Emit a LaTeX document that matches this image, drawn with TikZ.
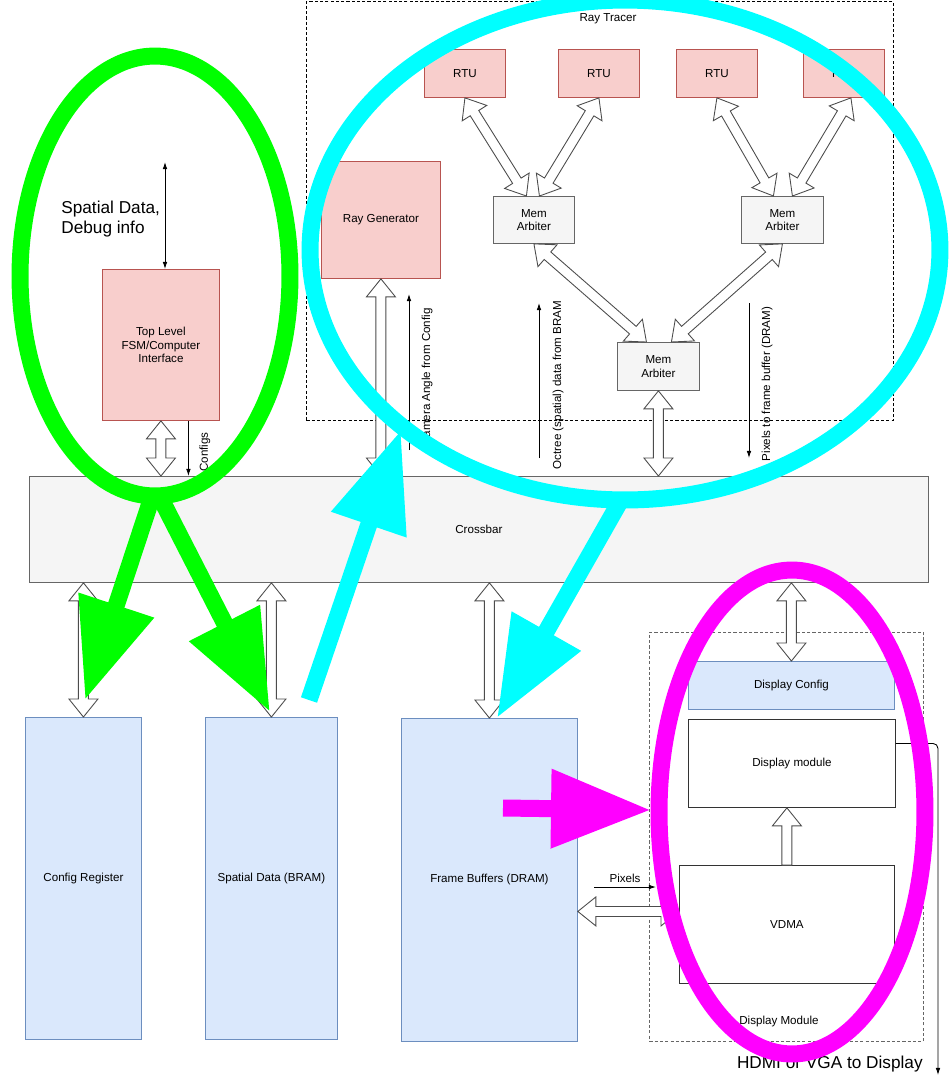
\documentclass[tikz,border=0pt]{standalone}
\usepackage{fontspec}
\setmainfont{Liberation Sans}
\usepackage{xcolor}
\definecolor{pinkfill}{HTML}{F8CECC}
\definecolor{pinkline}{HTML}{B85450}
\definecolor{bluefill}{HTML}{DAE8FC}
\definecolor{blueline}{HTML}{6C8EBF}
\definecolor{grayfill}{HTML}{F5F5F5}
\definecolor{grayline}{HTML}{666666}
\definecolor{hlgreen}{HTML}{00FF00}
\definecolor{hlcyan}{HTML}{00FFFF}
\definecolor{hlmag}{HTML}{FF00FF}
\usepackage{tikz}
\usetikzlibrary{arrows.meta,calc}

% hollow arrow, heads at both ends
\newcommand{\fatboth}[2]{%
  \path ($(#1)!0.36cm!(#2)$) coordinate (fa1) ($(#2)!0.36cm!(#1)$) coordinate (fa2);
  \draw[fat] (#1) -- ($(fa1)!0.29cm!90:(#2)$) -- ($(fa1)!0.1cm!90:(#2)$)
    -- ($(fa2)!0.1cm!-90:(#1)$) -- ($(fa2)!0.29cm!-90:(#1)$) -- (#2)
    -- ($(fa2)!0.29cm!90:(#1)$) -- ($(fa2)!0.1cm!90:(#1)$)
    -- ($(fa1)!0.1cm!-90:(#2)$) -- ($(fa1)!0.29cm!-90:(#2)$) -- cycle;}
% hollow arrow, head at the second end
\newcommand{\fatone}[2]{%
  \path ($(#2)!0.36cm!(#1)$) coordinate (fa2);
  \draw[fat] ($(#1)!0.1cm!90:(#2)$) -- ($(fa2)!0.1cm!-90:(#1)$)
    -- ($(fa2)!0.29cm!-90:(#1)$) -- (#2) -- ($(fa2)!0.29cm!90:(#1)$)
    -- ($(fa2)!0.1cm!90:(#1)$) -- ($(#1)!0.1cm!-90:(#2)$) -- cycle;}

\begin{document}
\begin{tikzpicture}[x=0.02cm, y=-0.02cm,
  box/.style={draw, inner sep=0pt, anchor=north west, line width=0.5pt, align=center,
    font=\fontsize{6.6}{7.6}\selectfont},
  pinkbox/.style={box, fill=pinkfill, draw=pinkline},
  bluebox/.style={box, fill=bluefill, draw=blueline},
  graybox/.style={box, fill=grayfill, draw=grayline},
  whitebox/.style={box, fill=white, draw=black!80},
  dashframe/.style={draw, dash pattern=on 1.8pt off 1.2pt, line width=0.5pt, inner sep=0pt, anchor=north west},
  lbl/.style={font=\fontsize{6.6}{7.6}\selectfont, inner sep=0pt},
  biglbl/.style={font=\fontsize{9.8}{11.3}\selectfont, inner sep=0pt, align=left},
  fat/.style={draw=black!70, fill=white, line width=0.5pt, line join=miter},
  thinarr/.style={-{Latex[length=4pt,width=2.6pt]}, line width=0.5pt},
  thinboth/.style={{Latex[length=4pt,width=2.6pt]}-{Latex[length=4pt,width=2.6pt]}, line width=0.5pt},
  hilite/.style={line width=0.34cm, -{Triangle[length=2cm,width=1.5cm]}},
  ring/.style={line width=0.34cm}]
  \useasboundingbox (0,0) rectangle (950,1080);

  % ray tracer
  \node[dashframe, minimum width=11.74cm, minimum height=8.38cm] (raytracer) at (306,1) {};
  \node[lbl] (rtlbl) at (608,19) {Ray Tracer};
  \foreach \i/\x in {1/424,2/558,3/676,4/803}
    \node[pinkbox, minimum width=1.62cm, minimum height=0.96cm] (rtu\i) at (\x,49) {RTU};
  \node[pinkbox, minimum width=2.38cm, minimum height=2.34cm] (raygen) at (321,161) {Ray Generator};
  \node[graybox, minimum width=1.62cm, minimum height=0.94cm] (arbL) at (493,196) {Mem\\Arbiter};
  \node[graybox, minimum width=1.64cm, minimum height=0.94cm] (arbR) at (741,196) {Mem\\Arbiter};
  \node[graybox, minimum width=1.64cm, minimum height=0.96cm] (arbB) at (617,342) {Mem\\Arbiter};

  \node[pinkbox, minimum width=2.34cm, minimum height=3.02cm] (fsm) at (102,269) {Top Level\\FSM/Computer\\Interface};
  \node[graybox, minimum width=17.98cm, minimum height=2.12cm] (crossbar) at (29,476) {Crossbar};

  % memories
  \node[bluebox, minimum width=2.32cm, minimum height=6.44cm] (cfgreg) at (25,717) {Config Register};
  \node[bluebox, minimum width=2.64cm, minimum height=6.44cm] (spatial) at (205,717) {Spatial Data (BRAM)};
  \node[bluebox, minimum width=3.52cm, minimum height=6.46cm] (fb) at (401,718) {Frame Buffers (DRAM)};

  % display
  \node[dashframe, draw=black!60, minimum width=5.48cm, minimum height=8.18cm] (dispbox) at (649,632) {};
  \node[lbl] (displbl) at (779,1021) {Display Module};
  \node[bluebox, minimum width=4.12cm, minimum height=0.96cm] (dispcfg) at (688,661) {Display Config};
  \node[whitebox, minimum width=4.14cm, minimum height=1.76cm] (dispmod) at (688,719) {Display module};
  \node[whitebox, minimum width=4.3cm, minimum height=2.36cm] (vdma) at (679,865) {VDMA};

  % hollow links
  \coordinate (arbL1) at ([xshift=-0.15cm]arbL.north);
  \coordinate (arbL2) at ([xshift=0.11cm]arbL.north);
  \coordinate (arbR1) at ([xshift=-0.18cm]arbR.north);
  \coordinate (arbR2) at ([xshift=0.2cm]arbR.north);
  \coordinate (rtu4b) at ([xshift=0.14cm]rtu4.south);
  \fatboth{rtu1.south}{arbL1}
  \fatboth{rtu2.south}{arbL2}
  \fatboth{rtu3.south}{arbR1}
  \fatboth{rtu4b}{arbR2}
  \coordinate (arbB1) at ([xshift=-0.24cm]arbB.north);
  \coordinate (arbB2) at ([xshift=0.26cm]arbB.north);
  \fatboth{arbL.south}{arbB1}
  \fatboth{arbR.south}{arbB2}
  \coordinate (arbbus) at (arbB.south |- crossbar.north);
  \fatboth{arbB.south}{arbbus}
  \coordinate (rgbus) at (raygen.south |- crossbar.north);
  \fatboth{rgbus}{raygen.south}
  \coordinate (fsmbus) at (fsm.south |- crossbar.north);
  \fatboth{fsm.south}{fsmbus}
  \coordinate (cfgbus) at (cfgreg.north |- crossbar.south);
  \fatboth{cfgbus}{cfgreg.north}
  \coordinate (spbus) at (spatial.north |- crossbar.south);
  \fatboth{spbus}{spatial.north}
  \coordinate (fbbus) at (fb.north |- crossbar.south);
  \fatboth{fbbus}{fb.north}
  \coordinate (dcbus) at (dispcfg.north |- crossbar.south);
  \fatboth{dcbus}{dispcfg.north}
  \coordinate (vdmaup) at (vdma.north |- dispmod.south);
  \fatone{vdma.north}{vdmaup}
  \coordinate (vdmain) at ([yshift=0.26cm]vdma.west);
  \coordinate (fbout) at (fb.east |- vdmain);
  \fatboth{fbout}{vdmain}

  % thin links
  \coordinate (cam0) at (409,450);
  \coordinate (cam1) at (409,294);
  \draw[thinarr] (cam0) -- (cam1);
  \node[lbl, rotate=90] (camlbl) at (427,377) {Camera Angle from Config};
  \coordinate (oct0) at (539,458);
  \coordinate (oct1) at (539,303);
  \draw[thinarr] (oct0) -- (oct1);
  \node[lbl, rotate=90] (octlbl) at (558,385) {Octree (spatial) data from BRAM};
  \coordinate (pix0) at (749,303);
  \coordinate (pix1) at (749,458);
  \draw[thinarr] (pix0) -- (pix1);
  \node[lbl, rotate=90] (pixlbl) at (767,384) {Pixels to frame buffer (DRAM)};

  \coordinate (cfgtop) at ([xshift=0.55cm]fsm.south);
  \coordinate (cfgbot) at (cfgtop |- crossbar.north);
  \draw[thinarr] (cfgtop) -- (cfgbot);
  \node[lbl, rotate=90] (cfglbl) at (205,452) {Configs};

  \coordinate (pctop) at (165,162);
  \coordinate (pcbot) at (pctop |- fsm.north);
  \draw[thinboth] (pctop) -- (pcbot);
  \node[biglbl, anchor=west] (pclbl) at (61,219) {Spatial Data,\\Debug info};

  \coordinate (pixL) at (594,887);
  \coordinate (pixR) at (656,887);
  \draw[thinarr] (pixL) -- (pixR) node[lbl, midway, above=0.07cm] {Pixels};

  \coordinate (hdmi) at (938,1075);
  \draw[thinarr, rounded corners=0.1cm] ([yshift=0.4cm]dispmod.east) -| (hdmi);
  \node[biglbl, anchor=east] (hdmilbl) at (923,1064) {HDMI or VGA to Display};

  % highlights
  \draw[ring, hlgreen] (155,276) ellipse [x radius=2.7cm, y radius=4.4cm];
  \draw[ring, hlcyan] (625,250) ellipse [x radius=6.3cm, y radius=5.0cm];
  \draw[ring, hlmag] (792,812) ellipse [x radius=2.66cm, y radius=4.84cm];
  \coordinate (g1a) at (152,497);
  \coordinate (g1b) at (85,700);
  \coordinate (g2a) at (160,497);
  \coordinate (g2b) at (270,712);
  \coordinate (c1a) at (309,700);
  \coordinate (c1b) at (401,430);
  \coordinate (c2a) at (622,498);
  \coordinate (c2b) at (497,718);
  \coordinate (m1a) at (503,808);
  \coordinate (m1b) at (651,810);
  \draw[hilite, hlgreen] (g1a) -- (g1b);
  \draw[hilite, hlgreen] (g2a) -- (g2b);
  \draw[hilite, hlcyan] (c1a) -- (c1b);
  \draw[hilite, hlcyan] (c2a) -- (c2b);
  \draw[hilite, hlmag] (m1a) -- (m1b);
\end{tikzpicture}
\end{document}
